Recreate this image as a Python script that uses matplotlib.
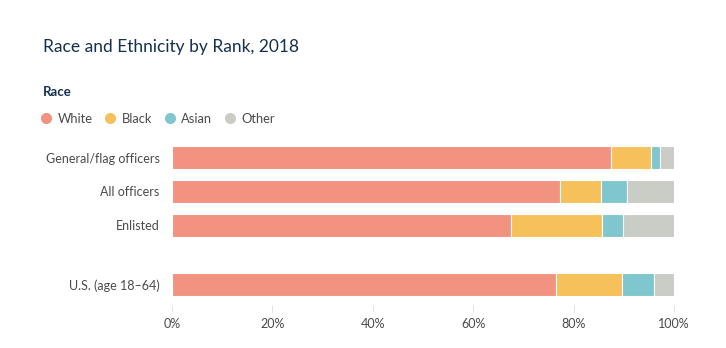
import matplotlib.pyplot as plt
from matplotlib.lines import Line2D
from matplotlib.ticker import PercentFormatter

plt.rcParams['font.family'] = ['Lato', 'DejaVu Sans']

groups = ['General/flag officers', 'All officers', 'Enlisted', 'U.S. (age 18\u201364)']
positions = [0, 1, 2, 3.74]
races = ['White', 'Black', 'Asian', 'Other']
white = [87.5, 77.2, 67.5, 76.4]
black = [8.0, 8.2, 18.2, 13.3]
asian = [1.7, 5.2, 4.2, 6.4]
other = [2.8, 9.4, 10.1, 3.9]
colors = ['#F29381', '#F6C05A', '#80C6CF', '#C9CDC5']

fig = plt.figure(figsize=(7.26, 3.48), dpi=100)
ax = fig.add_axes([172/726, 1-305/348, 502/726, 165/348])

left = [0, 0, 0, 0]
for vals, col in zip([white, black, asian, other], colors):
    ax.barh(positions, vals, left=left, height=0.67, color=col,
            edgecolor='white', linewidth=0.8)
    left = [l + v for l, v in zip(left, vals)]

ax.set_xlim(0, 100)
ax.set_ylim(4.34, -0.515)
ax.set_yticks(positions)
ax.set_yticklabels(groups)
ax.set_xticks([0, 20, 40, 60, 80, 100])
ax.xaxis.set_major_formatter(PercentFormatter(decimals=0))
ax.tick_params(axis='y', length=0, pad=9, labelsize=9, labelcolor='#4a4a4a')
ax.tick_params(axis='x', length=5, width=0.6, color='#dddddd', pad=4,
               labelsize=9, labelcolor='#4a4a4a')
for s in ax.spines.values():
    s.set_visible(False)

fig.text(43/726, 1-47/348, 'Race and Ethnicity by Rank, 2018', fontsize=12.5,
         color='#14304f', va='center', ha='left')
fig.text(43/726, 1-92/348, 'Race', fontsize=9.5, fontweight='bold',
         color='#14304f', va='center', ha='left')

handles = [Line2D([], [], marker='o', linestyle='none', markersize=8,
                  markerfacecolor=c, markeredgecolor='none') for c in colors]
fig.legend(handles, races, loc='center left', ncol=4, frameon=False,
           bbox_to_anchor=(41/726, 1-119/348), handlelength=0.8,
           handletextpad=0.5, columnspacing=0.95, fontsize=9.3,
           labelcolor='#4a4a4a', borderaxespad=0, borderpad=0)

fig.savefig('out.png', dpi=100, facecolor='white')
